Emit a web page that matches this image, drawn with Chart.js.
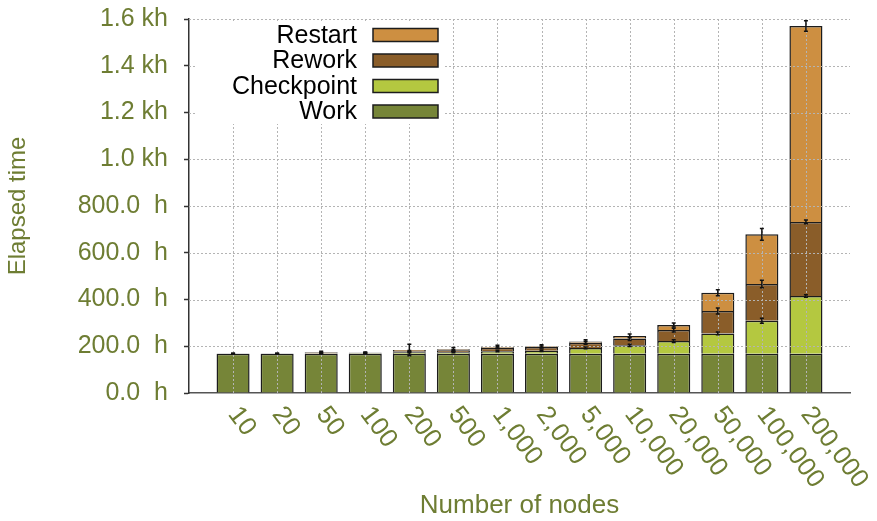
<!DOCTYPE html>
<html>
<head>
<meta charset="utf-8">
<script src="https://cdn.jsdelivr.net/npm/chart.js@4.4.0/dist/chart.umd.min.js"></script>
<style>
  html, body { margin: 0; padding: 0; background: #fff; }
</style>
</head>
<body>
<canvas id="chart" width="877" height="521"></canvas>
<script>
// datos (horas)
const nodeCounts = ['10', '20', '50', '100', '200', '500', '1,000', '2,000', '5,000', '10,000', '20,000', '50,000', '100,000', '200,000'];
const workHours = [168, 168, 168, 168, 168, 168, 168, 168, 168, 168, 168, 168, 168, 168];
const checkpointHours = [0.5, 0.6, 1, 2, 6, 6, 11, 13, 25, 36, 54, 87, 141, 247];
const reworkHours = [0.3, 0.4, 4, 2, 5, 9, 15, 16, 22, 29, 47, 96, 157, 317];
const restartHours = [0.2, 0.3, 2, 1, 5, 4, 3, 3, 5, 11, 22, 78, 213, 838];
// errores (+/-) en la cima de cada segmento
const checkpointErr = [0.5, 0.5, 1, 1, 2, 2, 3, 3, 4, 5, 6, 6, 11, 5];
const reworkErr = [0.5, 0.5, 1, 1, 3, 3, 4, 4, 6, 8, 8, 13, 16, 8];
const restartErr = [1, 1, 4, 2, 25, 8, 7, 6, 8, 8, 9, 13, 25, 22];
const yTickLabels = ['0.0  h', '200.0  h', '400.0  h', '600.0  h', '800.0  h', '1.0 kh', '1.2 kh', '1.4 kh', '1.6 kh'];

const olive = '#6e7d33';
const fontFamily = '"Liberation Sans", Arial, sans-serif';

// una categoria vacia a cada lado, como en el original
const labels = [''].concat(nodeCounts, ['']);
const pad = arr => [null].concat(arr, [null]);

const seriesDefs = [
    { label: 'Work', data: workHours, color: '#768538', err: null },
    { label: 'Checkpoint', data: checkpointHours, color: '#b4c840', err: checkpointErr },
    { label: 'Rework', data: reworkHours, color: '#8a5d29', err: reworkErr },
    { label: 'Restart', data: restartHours, color: '#cd8f41', err: restartErr }
];

const decor = {
    id: 'decor',
    afterDatasetsDraw(chart) {
        const ctx = chart.ctx;
        const area = chart.chartArea;
        const xs = chart.scales.x, ys = chart.scales.y;
        ctx.save();
        ctx.setLineDash([2, 2]);
        ctx.strokeStyle = '#b4b4b4';
        ctx.lineWidth = 1;
        ys.ticks.forEach(t => {
            if (t.value === 0) return;
            const y = Math.round(ys.getPixelForValue(t.value)) + 0.5;
            ctx.beginPath(); ctx.moveTo(area.left, y); ctx.lineTo(area.right, y); ctx.stroke();
        });
        for (let i = 1; i <= nodeCounts.length; i++) {
            const x = Math.round(xs.getPixelForValue(i)) + 0.5;
            ctx.beginPath(); ctx.moveTo(x, area.top); ctx.lineTo(x, area.bottom); ctx.stroke();
        }
        ctx.restore();
    },
    afterDraw(chart) {
        const ctx = chart.ctx;
        const xs = chart.scales.x, ys = chart.scales.y;
        ctx.save();
        // barras de error
        ctx.strokeStyle = '#111';
        ctx.lineWidth = 1.5;
        nodeCounts.forEach((n, i) => {
            let top = 0;
            seriesDefs.forEach(s => {
                top += s.data[i];
                if (!s.err) return;
                const x = xs.getPixelForValue(i + 1);
                const y1 = ys.getPixelForValue(top - s.err[i]);
                const y2 = ys.getPixelForValue(top + s.err[i]);
                ctx.beginPath();
                ctx.moveTo(x, y1); ctx.lineTo(x, y2);
                ctx.moveTo(x - 2, y1); ctx.lineTo(x + 2, y1);
                ctx.moveTo(x - 2, y2); ctx.lineTo(x + 2, y2);
                ctx.stroke();
            });
        });
        // etiquetas del eje x giradas
        ctx.fillStyle = olive;
        ctx.font = '26px ' + fontFamily;
        ctx.textAlign = 'left';
        ctx.textBaseline = 'middle';
        nodeCounts.forEach((n, i) => {
            const x = xs.getPixelForValue(i + 1);
            ctx.save();
            ctx.translate(x, 410);
            ctx.rotate(53 * Math.PI / 180);
            ctx.fillText(n, 0, 0);
            ctx.restore();
        });
        // leyenda
        ctx.fillStyle = '#fff';
        ctx.fillRect(195, 22, 250, 102);
        ctx.font = '25px ' + fontFamily;
        ctx.textAlign = 'right';
        seriesDefs.slice().reverse().forEach((s, j) => {
            const y = 35 + j * 25.5;
            ctx.fillStyle = '#000';
            ctx.fillText(s.label, 357, y + 1);
            ctx.fillStyle = s.color;
            ctx.fillRect(373, y - 6.5, 65, 13);
            ctx.strokeStyle = '#1c1c1c';
            ctx.lineWidth = 1.5;
            ctx.strokeRect(373, y - 6.5, 65, 13);
        });
        ctx.restore();
    }
};

new Chart(document.getElementById('chart').getContext('2d'), {
    type: 'bar',
    data: {
        labels: labels,
        datasets: seriesDefs.map(s => ({
            label: s.label,
            data: pad(s.data),
            backgroundColor: s.color,
            borderColor: '#1c1c1c',
            borderWidth: 1.5,
            barPercentage: 0.75,
            categoryPercentage: 1
        }))
    },
    options: {
        responsive: false,
        devicePixelRatio: 1,
        animation: false,
        layout: { padding: { top: 19, right: 27, left: 0, bottom: 0 } },
        plugins: {
            legend: { display: false },
            tooltip: { enabled: false }
        },
        scales: {
            x: {
                stacked: true,
                offset: false,
                grid: { display: false },
                border: { color: '#555', width: 1.5 },
                ticks: { display: false },
                title: {
                    display: true,
                    text: 'Number of nodes',
                    color: olive,
                    font: { family: fontFamily, size: 26 },
                    padding: { top: 0, bottom: 0 }
                },
                afterFit: scale => { scale.height = 128; }
            },
            y: {
                stacked: true,
                min: 0,
                max: 1600,
                grid: { drawOnChartArea: false, drawTicks: true, tickLength: 5, tickColor: '#333', tickWidth: 1.5 },
                border: { color: '#333', width: 1.5 },
                ticks: {
                    stepSize: 200,
                    color: olive,
                    padding: 16,
                    font: { family: fontFamily, size: 25 },
                    callback: (v, i) => yTickLabels[i]
                },
                title: {
                    display: true,
                    text: 'Elapsed time',
                    color: olive,
                    font: { family: fontFamily, size: 24 },
                    padding: { top: 4, bottom: 4 }
                },
                afterFit: scale => {
                    scale.width = 189;
                    scale.paddingTop = 0;
                    scale.paddingBottom = 0;
                }
            }
        }
    },
    plugins: [decor]
});
</script>
</body>
</html>
